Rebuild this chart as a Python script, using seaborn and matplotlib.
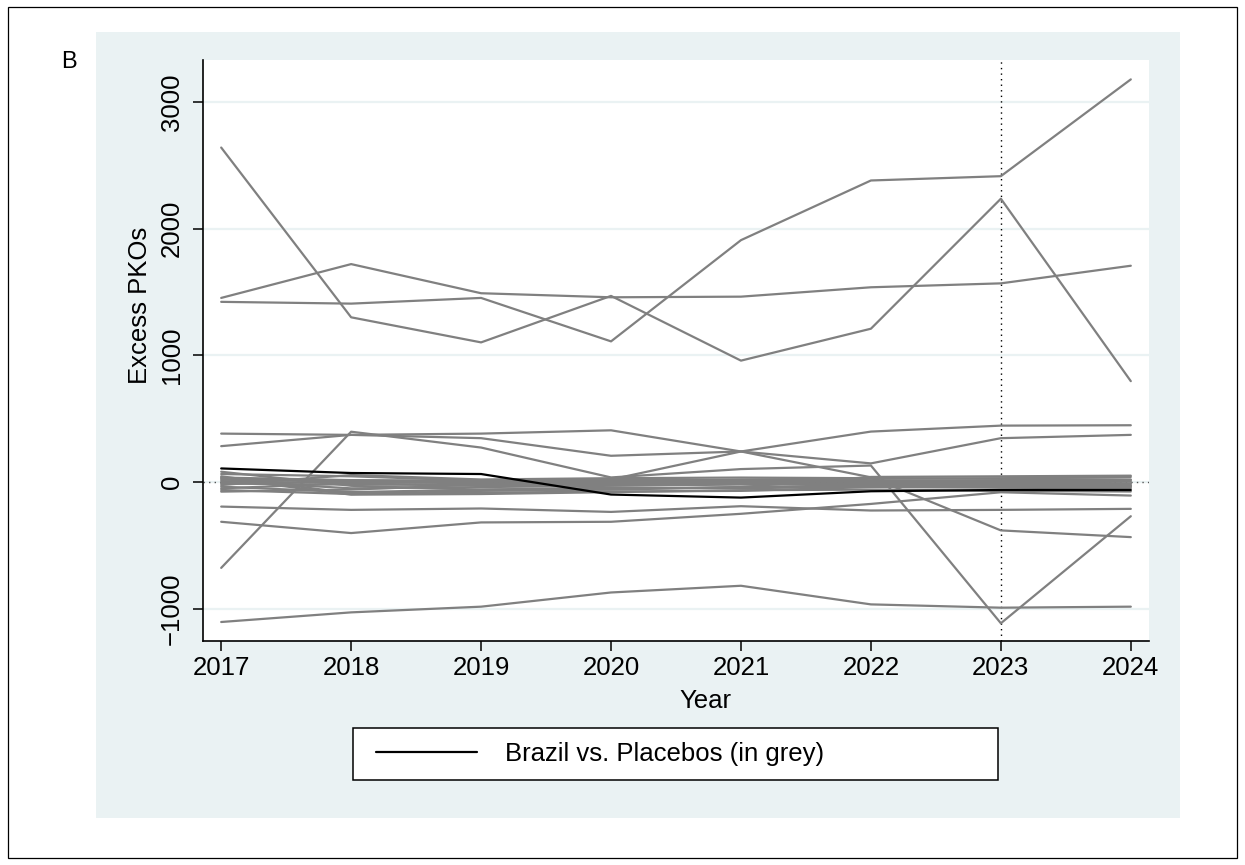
import numpy as np
import pandas as pd
import matplotlib
matplotlib.use("Agg")
import matplotlib.pyplot as plt
from matplotlib.patches import Rectangle
from matplotlib.lines import Line2D
from matplotlib.legend_handler import HandlerBase
import seaborn as sns

# ---- data -------------------------------------------------------------
years = [2017, 2018, 2019, 2020, 2021, 2022, 2023, 2024]

brazil = [107, 71, 63, -99, -123, -73, -63, -63]

placebo_a = [2640, 1300, 1102, 1469, 958, 1210, 2236, 796]
placebo_b = [1453, 1720, 1490, 1458, 1463, 1537, 1568, 1707]
placebo_c = [1422, 1408, 1453, 1110, 1909, 2380, 2414, 3178]
placebo_d = [382, 372, 382, 408, 241, 37, -382, -435]
placebo_e = [283, 372, 346, 207, 241, 147, 346, 372]
placebo_f = [-678, 397, 272, 36, 102, 130, -1115, -270]
placebo_g = [-194, -220, -209, -236, -191, -225, -220, -212]
placebo_h = [-314, -403, -319, -314, -251, -173, -81, -107]
placebo_i = [-1105, -1029, -984, -872, -819, -966, -992, -984]
placebo_j = [81, -30, -60, -55, -40, 40, 45, 50]
placebo_k = [63, 45, 10, 0, 20, 25, 30, 40]
placebo_l = [45, -90, -85, -75, -70, -40, -45, -50]
placebo_m = [29, -100, -95, -80, -65, -60, -70, -75]
placebo_n = [18, 10, 5, 20, 15, 10, 12, 15]
placebo_o = [8, -50, -40, -30, -20, -10, -5, -10]
placebo_p = [-3, 0, -10, -5, 0, 5, 0, 5]
placebo_q = [-13, -20, -25, -20, -15, -20, -20, -25]
placebo_r = [-24, 55, 20, 30, 35, 30, 25, 20]
placebo_s = [-37, -80, -60, -45, -50, -35, -30, -35]
placebo_t = [-50, -10, 0, 10, 5, 0, -10, -15]
placebo_u = [-63, -95, -70, -60, -40, -25, -35, -40]
placebo_v = [-76, -60, -20, -10, -5, -15, -25, -30]
placebo_w = [35, 15, 10, 20, 241, 398, 445, 448]

placebos = [placebo_a, placebo_b, placebo_c, placebo_d, placebo_e, placebo_f,
            placebo_g, placebo_h, placebo_i, placebo_j, placebo_k, placebo_l,
            placebo_m, placebo_n, placebo_o, placebo_p, placebo_q, placebo_r,
            placebo_s, placebo_t, placebo_u, placebo_v, placebo_w]

y_ticks = [-1000, 0, 1000, 2000, 3000]
treat_year = 2023

# long table for seaborn
rows = []
for k, series in enumerate(placebos):
    for yr, v in zip(years, series):
        rows.append({"unit": f"p{k}", "year": yr, "value": v})
placebo_df = pd.DataFrame(rows)
brazil_df = pd.DataFrame({"year": years, "value": brazil})


class IndentedLineHandler(HandlerBase):
    """Legend key drawn as a plain line, indented from the frame edge."""

    def __init__(self, indent=6.5, **kw):
        super().__init__(**kw)
        self.indent = indent

    def create_artists(self, legend, orig_handle, xdescent, ydescent,
                       width, height, fontsize, trans):
        y = height / 2 - ydescent
        line = Line2D([-xdescent + self.indent, width - xdescent], [y, y],
                      color=orig_handle.get_color(),
                      lw=orig_handle.get_linewidth())
        line.set_transform(trans)
        return [line]


# ---- style ------------------------------------------------------------
sns.set_theme(style="white")
plt.rcParams["font.family"] = ["Liberation Sans", "DejaVu Sans"]
plt.rcParams["text.color"] = "black"
plt.rcParams["axes.labelcolor"] = "black"
plt.rcParams["xtick.color"] = "black"
plt.rcParams["ytick.color"] = "black"

W, H = 1245, 865
fig = plt.figure(figsize=(W / 100, H / 100), dpi=100, facecolor="white")

# graph region background and outer frame
fig.patches.append(Rectangle((96 / W, 1 - 818 / H), (1180 - 96) / W, (818 - 32) / H,
                             transform=fig.transFigure, facecolor="#EAF2F3",
                             edgecolor="none", zorder=-2))
fig.patches.append(Rectangle((8 / W, 1 - 858 / H), (1237 - 8) / W, (858 - 7) / H,
                             transform=fig.transFigure, facecolor="none",
                             edgecolor="black", lw=0.9, zorder=-1))
fig.text(69 / W, 1 - 62 / H, "B", fontsize=17, ha="center", va="center",
         color="black")

ax = fig.add_axes([203 / W, 1 - 641 / H, (1149 - 203) / W, (641 - 60) / H])
ax.set_zorder(1)
ax.set_facecolor("white")

for yt in y_ticks:
    ax.axhline(yt, color="#EAF2F3", lw=1.6, zorder=0)

sns.lineplot(data=placebo_df, x="year", y="value", units="unit", estimator=None,
             color="#808080", lw=1.6, ax=ax, zorder=2, legend=False)
sns.lineplot(data=brazil_df, x="year", y="value", color="black", lw=1.6,
             ax=ax, zorder=3, legend=False)

ax.axhline(0, color="#555555", lw=1.0, ls=(0, (1, 3)), zorder=1)
ax.axvline(treat_year, color="black", lw=1.0, ls=(0, (1, 3)), zorder=1)

ax.set_xlim(2016.86, 2024.14)
ax.set_ylim(-1255, 3331)
ax.set_xticks(years)
ax.set_yticks(y_ticks)
ax.set_yticklabels([f"{t}".replace("-", "\u2212") for t in y_ticks],
                   rotation=90, va="center")

for side in ("top", "right"):
    ax.spines[side].set_visible(False)
for side in ("left", "bottom"):
    ax.spines[side].set_color("black")
    ax.spines[side].set_linewidth(1.2)

ax.tick_params(axis="both", which="major", direction="out", length=7, width=1.1,
               color="black", labelsize=18.5, labelcolor="black",
               left=True, bottom=True)
ax.tick_params(axis="y", pad=7)
ax.tick_params(axis="x", pad=4)

ax.set_xlabel("Year", fontsize=18.5, color="black")
ax.set_ylabel("Excess PKOs", fontsize=18.5, color="black")
ax.xaxis.set_label_coords(0.531, -0.082)
ax.yaxis.set_label_coords(-0.054, 0.578)

handle = Line2D([], [], color="black", lw=1.6)
leg = fig.legend([handle], ["Brazil vs. Placebos (in grey)"],
                 loc="lower left",
                 bbox_to_anchor=(353 / W, 1 - 780 / H, (998 - 353) / W, 50 / H),
                 mode="expand", fontsize=18.5, frameon=True, fancybox=False,
                 framealpha=1, edgecolor="black", handlelength=4.28,
                 handletextpad=1.1, borderpad=0.55, borderaxespad=0,
                 handler_map={Line2D: IndentedLineHandler(indent=6.5)})
leg.get_frame().set_linewidth(1.1)
for t in leg.get_texts():
    t.set_color("black")
leg.set_zorder(3)

fig.savefig("out.png", dpi=100, facecolor="white")
